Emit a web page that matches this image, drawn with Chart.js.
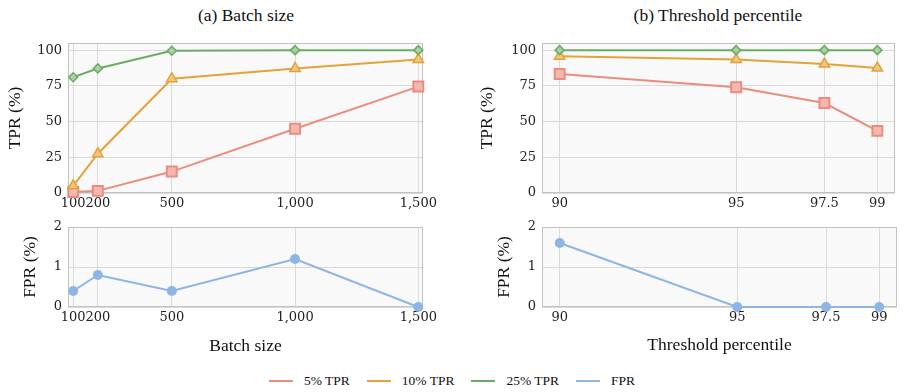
<!DOCTYPE html>
<html>
<head>
<meta charset="utf-8">
<script src="https://cdn.jsdelivr.net/npm/chart.js@4.4.1/dist/chart.umd.min.js"></script>
<style>
  body { margin: 0; background: #fff; }
  #page { position: relative; width: 904px; height: 392px; overflow: hidden; font-family: "Liberation Serif", serif; color: #111; }
  .box { position: absolute; }
  .title { position: absolute; top: 5px; height: 20px; line-height: 20px; font-size: 17.5px; white-space: nowrap; transform: translateX(-50%); }
  #legend { position: absolute; left: 0; width: 904px; top: 372px; height: 18px; display: flex; justify-content: center; align-items: center; font-size: 13.5px; }
  .item { display: flex; align-items: center; margin: 0 8.5px; }
  .swatch { width: 24px; height: 2px; margin-right: 11px; }
</style>
</head>
<body>
<div id="page">
  <div class="title" style="left:246px">(a) Batch size</div>
  <div class="title" style="left:718px">(b) Threshold percentile</div>
  <div class="box" style="left:0;top:0;width:452px;height:215px"><canvas id="tl"></canvas></div>
  <div class="box" style="left:0;top:215px;width:452px;height:145px"><canvas id="bl"></canvas></div>
  <div class="box" style="left:452px;top:0;width:452px;height:215px"><canvas id="tr"></canvas></div>
  <div class="box" style="left:452px;top:215px;width:452px;height:145px"><canvas id="br"></canvas></div>
  <div id="legend"></div>
</div>
<script>
// data
const batchSizes = [100, 200, 500, 1000, 1500];
const batchTpr5 = [0.7, 1.5, 15, 45, 74.5];
const batchTpr10 = [5, 27.5, 80, 87.2, 93.5];
const batchTpr25 = [81, 87.2, 99.6, 100, 100];
const batchFpr = [0.4, 0.8, 0.4, 1.2, 0];

const percentiles = [90, 95, 97.5, 99];
const pctTpr5 = [83.3, 74, 63, 43.5];
const pctTpr10 = [95.8, 93.4, 90.3, 87.5];
const pctTpr25 = [100, 100, 100, 100];
const pctFpr = [1.6, 0, 0, 0];

const tprTicks = [0, 25, 50, 75, 100];
const fprTicks = [0, 1, 2];
const seriesNames = ['5% TPR', '10% TPR', '25% TPR', 'FPR'];

const RED = '#ec8c7f', RED_FILL = '#f5b8b0';
const ORANGE = '#e2a33a', ORANGE_FILL = '#efc77e';
const GREEN = '#6caa65', GREEN_FILL = '#a9d1a2';
const BLUE = '#8db5e6';
const seriesColors = [RED, ORANGE, GREEN, BLUE];

const TICK_FONT = { family: 'DejaVu Serif', size: 13 };
const AXIS_FONT = { family: 'Liberation Serif', size: 17.5 };

const framePlugin = {
  id: 'frame',
  beforeDraw(chart) {
    const { ctx, chartArea: a } = chart;
    ctx.save();
    ctx.fillStyle = '#f9f9f9';
    ctx.fillRect(a.left, a.top, a.width, a.height);
    ctx.restore();
  },
  beforeDatasetsDraw(chart) {
    const { ctx, chartArea: a } = chart;
    ctx.save();
    ctx.strokeStyle = '#c2c2c2';
    ctx.lineWidth = 1;
    ctx.strokeRect(Math.round(a.left) + 0.5, Math.round(a.top) + 0.5, Math.round(a.width) - 1, Math.round(a.height) - 1);
    ctx.restore();
  }
};

function pts(xs, ys) {
  return xs.map((x, i) => ({ x: x, y: ys[i] }));
}

function tprSets(xs, t5, t10, t25) {
  return [
    { label: seriesNames[2], data: pts(xs, t25), borderColor: GREEN, backgroundColor: GREEN_FILL,
      pointStyle: 'rectRot', pointRadius: 4.5, pointBorderWidth: 1.5, borderWidth: 2 },
    { label: seriesNames[1], data: pts(xs, t10), borderColor: ORANGE, backgroundColor: ORANGE_FILL,
      pointStyle: 'triangle', pointRadius: 6, pointBorderWidth: 1.5, borderWidth: 2 },
    { label: seriesNames[0], data: pts(xs, t5), borderColor: RED, backgroundColor: RED_FILL,
      pointStyle: 'rect', pointRadius: 7, pointBorderWidth: 2, borderWidth: 2 }
  ];
}

function fprSets(xs, f) {
  return [
    { label: seriesNames[3], data: pts(xs, f), borderColor: BLUE, backgroundColor: BLUE,
      pointStyle: 'circle', pointRadius: 5, pointBorderWidth: 0, borderWidth: 2 }
  ];
}

function makeChart(id, opts) {
  const fmt = v => v.toLocaleString('en-US');
  return new Chart(document.getElementById(id), {
    type: 'line',
    data: { datasets: opts.datasets.map(d => Object.assign({ clip: false, tension: 0 }, d)) },
    options: {
      responsive: true,
      maintainAspectRatio: false,
      animation: false,
      layout: { padding: opts.padding },
      plugins: { legend: { display: false }, tooltip: { enabled: false } },
      scales: {
        x: {
          type: 'linear',
          min: opts.xMin, max: opts.xMax,
          afterBuildTicks: s => { s.ticks = opts.xTicks.map(v => ({ value: v })); },
          afterFit: s => { s.height = opts.xHeight; s.paddingLeft = 0; s.paddingRight = 0; },
          grid: { color: '#dadada', drawTicks: false },
          border: { display: false },
          ticks: { font: TICK_FONT, color: '#222', padding: 3, maxRotation: 0, autoSkip: false, callback: v => fmt(v) },
          title: opts.xTitle
            ? { display: true, text: opts.xTitle, font: AXIS_FONT, color: '#111', padding: { top: 0, bottom: opts.xTitlePad } }
            : { display: false }
        },
        y: {
          min: opts.yMin, max: opts.yMax,
          afterBuildTicks: s => { s.ticks = opts.yTicks.map(v => ({ value: v })); },
          afterFit: s => { s.width = opts.yWidth; s.paddingTop = 0; s.paddingBottom = 0; },
          grid: { color: '#dadada', drawTicks: false },
          border: { display: false },
          ticks: { font: TICK_FONT, color: '#222', padding: 6 },
          title: { display: true, text: opts.yTitle, font: AXIS_FONT, color: '#111', padding: 0 }
        }
      }
    },
    plugins: [framePlugin]
  });
}

makeChart('tl', {
  datasets: tprSets(batchSizes, batchTpr5, batchTpr10, batchTpr25),
  padding: { left: 4.5, top: 43, right: 29, bottom: 0 },
  xMin: 79, xMax: 1519, xTicks: batchSizes, xHeight: 22,
  yMin: 0, yMax: 105, yTicks: tprTicks, yWidth: 63.5, yTitle: 'TPR (%)'
});
makeChart('bl', {
  datasets: fprSets(batchSizes, batchFpr),
  padding: { left: 19.5, top: 12, right: 29, bottom: 0 },
  xMin: 79, xMax: 1519, xTicks: batchSizes, xHeight: 53, xTitle: 'Batch size', xTitlePad: 3,
  yMin: 0, yMax: 2, yTicks: fprTicks, yWidth: 48.5, yTitle: 'FPR (%)'
});
makeChart('tr', {
  datasets: tprSets(percentiles, pctTpr5, pctTpr10, pctTpr25),
  padding: { left: 24.5, top: 43, right: 7, bottom: 0 },
  xMin: 89.5, xMax: 99.5, xTicks: percentiles, xHeight: 22,
  yMin: 0, yMax: 105, yTicks: tprTicks, yWidth: 65.5, yTitle: 'TPR (%)'
});
makeChart('br', {
  datasets: fprSets(percentiles, pctFpr),
  padding: { left: 41.5, top: 12, right: 7, bottom: 0 },
  xMin: 89.5, xMax: 99.5, xTicks: percentiles, xHeight: 53, xTitle: 'Threshold percentile', xTitlePad: 4.5,
  yMin: 0, yMax: 2, yTicks: fprTicks, yWidth: 48.5, yTitle: 'FPR (%)'
});

// shared legend under both panels
const legend = document.getElementById('legend');
seriesNames.forEach((name, i) => {
  const item = document.createElement('div');
  item.className = 'item';
  item.innerHTML = '<span class="swatch" style="background:' + seriesColors[i] + '"></span><span>' + name + '</span>';
  legend.appendChild(item);
});
</script>
</body>
</html>
